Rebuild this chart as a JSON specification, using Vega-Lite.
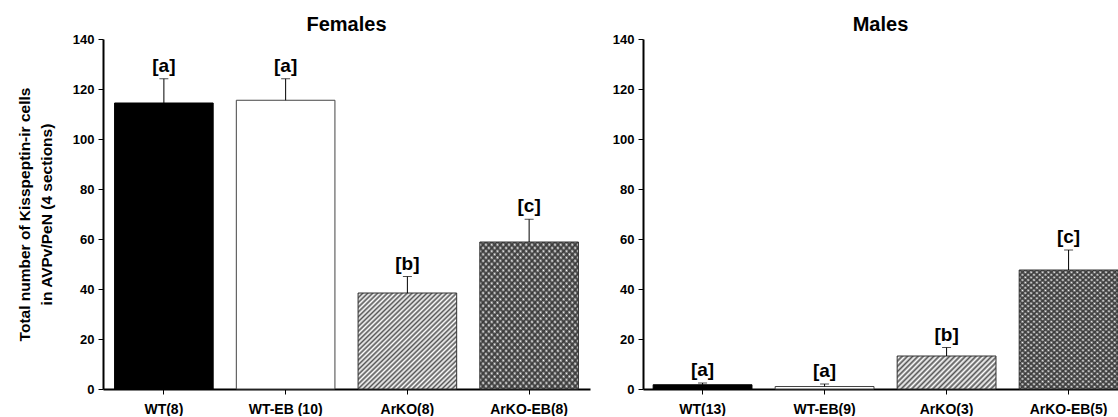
{
  "$schema": "https://vega.github.io/schema/vega-lite/v6.json",
  "padding": {"left": 17, "top": 15, "right": 0, "bottom": 0},
  "spacing": 22,
  "config": {
    "font": "Liberation Sans",
    "view": {"stroke": null},
    "axis": {"labelFont": "Liberation Sans", "labelFontWeight": "bold", "labelColor": "#000", "domainColor": "#000", "tickColor": "#000", "grid": false, "titleFont": "Liberation Sans", "titleFontWeight": "bold", "titleColor": "#000"},
    "title": {"font": "Liberation Sans", "fontSize": 20, "fontWeight": "bold", "color": "#000", "offset": -2}
  },
  "data": {"values": [
    {"sex": "Females", "key": "WT", "label": "WT(8)", "mean": 114.4, "upper": 124.1, "letter": "[a]"},
    {"sex": "Females", "key": "WT-EB", "label": "WT-EB (10)", "mean": 115.5, "upper": 124.1, "letter": "[a]"},
    {"sex": "Females", "key": "ArKO", "label": "ArKO(8)", "mean": 38.4, "upper": 45.0, "letter": "[b]"},
    {"sex": "Females", "key": "ArKO-EB", "label": "ArKO-EB(8)", "mean": 58.8, "upper": 67.9, "letter": "[c]"},
    {"sex": "Males", "key": "WT", "label": "WT(13)", "mean": 1.7, "upper": 2.4, "letter": "[a]"},
    {"sex": "Males", "key": "WT-EB", "label": "WT-EB(9)", "mean": 1.0, "upper": 2.0, "letter": "[a]"},
    {"sex": "Males", "key": "ArKO", "label": "ArKO(3)", "mean": 13.2, "upper": 16.6, "letter": "[b]"},
    {"sex": "Males", "key": "ArKO-EB", "label": "ArKO-EB(5)", "mean": 47.6, "upper": 55.6, "letter": "[c]"}
  ]},
  "hconcat": [
    {
      "title": {"text": "Females"},
      "width": 487,
      "height": 350,
      "transform": [{"filter": "datum.sex === 'Females'"}],
      "encoding": {
        "x": {"field": "label", "type": "nominal", "sort": null, "scale": {"paddingInner": 0.19, "paddingOuter": 0.095}, "axis": {"title": null, "labelAngle": 0, "labelFontSize": 14, "labelPadding": 8, "tickSize": 5, "domainWidth": 2}},
        "y": {"field": "mean", "type": "quantitative", "scale": {"domain": [0, 140]}, "title": ["Total number of Kisspeptin-ir cells", "in AVPv/PeN (4 sections)"], "axis": {"values": [0, 20, 40, 60, 80, 100, 120, 140], "titleFontSize": 15.5, "titleLineHeight": 22, "labelFontSize": 13, "tickSize": 5, "domainWidth": 2, "titlePadding": 18, "labelPadding": 4}}
      },
      "layer": [
        {"transform": [{"filter": "datum.key === 'WT'"}], "mark": {"type": "bar", "fill": "#000", "stroke": "#000", "strokeWidth": 1}},
        {"transform": [{"filter": "datum.key === 'WT-EB'"}], "mark": {"type": "bar", "fill": "#fff", "stroke": "#444", "strokeWidth": 1}},
        {"transform": [{"filter": "datum.key === 'ArKO'"}], "mark": {"type": "bar", "stroke": "#333", "strokeWidth": 1, "fill": {"gradient": "linear", "x1": 0, "y1": 0, "x2": 1, "y2": 1, "stops": [{"offset":0,"color":"#555"},{"offset":0.0125,"color":"#fff"},{"offset":0.025,"color":"#555"},{"offset":0.0375,"color":"#fff"},{"offset":0.05,"color":"#555"},{"offset":0.0625,"color":"#fff"},{"offset":0.075,"color":"#555"},{"offset":0.0875,"color":"#fff"},{"offset":0.1,"color":"#555"},{"offset":0.1125,"color":"#fff"},{"offset":0.125,"color":"#555"},{"offset":0.1375,"color":"#fff"},{"offset":0.15,"color":"#555"},{"offset":0.1625,"color":"#fff"},{"offset":0.175,"color":"#555"},{"offset":0.1875,"color":"#fff"},{"offset":0.2,"color":"#555"},{"offset":0.2125,"color":"#fff"},{"offset":0.225,"color":"#555"},{"offset":0.2375,"color":"#fff"},{"offset":0.25,"color":"#555"},{"offset":0.2625,"color":"#fff"},{"offset":0.275,"color":"#555"},{"offset":0.2875,"color":"#fff"},{"offset":0.3,"color":"#555"},{"offset":0.3125,"color":"#fff"},{"offset":0.325,"color":"#555"},{"offset":0.3375,"color":"#fff"},{"offset":0.35,"color":"#555"},{"offset":0.3625,"color":"#fff"},{"offset":0.375,"color":"#555"},{"offset":0.3875,"color":"#fff"},{"offset":0.4,"color":"#555"},{"offset":0.4125,"color":"#fff"},{"offset":0.425,"color":"#555"},{"offset":0.4375,"color":"#fff"},{"offset":0.45,"color":"#555"},{"offset":0.4625,"color":"#fff"},{"offset":0.475,"color":"#555"},{"offset":0.4875,"color":"#fff"},{"offset":0.5,"color":"#555"},{"offset":0.5125,"color":"#fff"},{"offset":0.525,"color":"#555"},{"offset":0.5375,"color":"#fff"},{"offset":0.55,"color":"#555"},{"offset":0.5625,"color":"#fff"},{"offset":0.575,"color":"#555"},{"offset":0.5875,"color":"#fff"},{"offset":0.6,"color":"#555"},{"offset":0.6125,"color":"#fff"},{"offset":0.625,"color":"#555"},{"offset":0.6375,"color":"#fff"},{"offset":0.65,"color":"#555"},{"offset":0.6625,"color":"#fff"},{"offset":0.675,"color":"#555"},{"offset":0.6875,"color":"#fff"},{"offset":0.7,"color":"#555"},{"offset":0.7125,"color":"#fff"},{"offset":0.725,"color":"#555"},{"offset":0.7375,"color":"#fff"},{"offset":0.75,"color":"#555"},{"offset":0.7625,"color":"#fff"},{"offset":0.775,"color":"#555"},{"offset":0.7875,"color":"#fff"},{"offset":0.8,"color":"#555"},{"offset":0.8125,"color":"#fff"},{"offset":0.825,"color":"#555"},{"offset":0.8375,"color":"#fff"},{"offset":0.85,"color":"#555"},{"offset":0.8625,"color":"#fff"},{"offset":0.875,"color":"#555"},{"offset":0.8875,"color":"#fff"},{"offset":0.9,"color":"#555"},{"offset":0.9125,"color":"#fff"},{"offset":0.925,"color":"#555"},{"offset":0.9375,"color":"#fff"},{"offset":0.95,"color":"#555"},{"offset":0.9625,"color":"#fff"},{"offset":0.975,"color":"#555"},{"offset":0.9875,"color":"#fff"},{"offset":1,"color":"#555"}]}}},
        {"transform": [{"filter": "datum.key === 'ArKO-EB'"}], "mark": {"type": "bar", "fill": {"gradient": "linear", "x1": 0, "y1": 0, "x2": 0.84, "y2": 1.12, "stops": [{"offset":0,"color":"#444"},{"offset":0.0125,"color":"#fff"},{"offset":0.025,"color":"#444"},{"offset":0.0375,"color":"#fff"},{"offset":0.05,"color":"#444"},{"offset":0.0625,"color":"#fff"},{"offset":0.075,"color":"#444"},{"offset":0.0875,"color":"#fff"},{"offset":0.1,"color":"#444"},{"offset":0.1125,"color":"#fff"},{"offset":0.125,"color":"#444"},{"offset":0.1375,"color":"#fff"},{"offset":0.15,"color":"#444"},{"offset":0.1625,"color":"#fff"},{"offset":0.175,"color":"#444"},{"offset":0.1875,"color":"#fff"},{"offset":0.2,"color":"#444"},{"offset":0.2125,"color":"#fff"},{"offset":0.225,"color":"#444"},{"offset":0.2375,"color":"#fff"},{"offset":0.25,"color":"#444"},{"offset":0.2625,"color":"#fff"},{"offset":0.275,"color":"#444"},{"offset":0.2875,"color":"#fff"},{"offset":0.3,"color":"#444"},{"offset":0.3125,"color":"#fff"},{"offset":0.325,"color":"#444"},{"offset":0.3375,"color":"#fff"},{"offset":0.35,"color":"#444"},{"offset":0.3625,"color":"#fff"},{"offset":0.375,"color":"#444"},{"offset":0.3875,"color":"#fff"},{"offset":0.4,"color":"#444"},{"offset":0.4125,"color":"#fff"},{"offset":0.425,"color":"#444"},{"offset":0.4375,"color":"#fff"},{"offset":0.45,"color":"#444"},{"offset":0.4625,"color":"#fff"},{"offset":0.475,"color":"#444"},{"offset":0.4875,"color":"#fff"},{"offset":0.5,"color":"#444"},{"offset":0.5125,"color":"#fff"},{"offset":0.525,"color":"#444"},{"offset":0.5375,"color":"#fff"},{"offset":0.55,"color":"#444"},{"offset":0.5625,"color":"#fff"},{"offset":0.575,"color":"#444"},{"offset":0.5875,"color":"#fff"},{"offset":0.6,"color":"#444"},{"offset":0.6125,"color":"#fff"},{"offset":0.625,"color":"#444"},{"offset":0.6375,"color":"#fff"},{"offset":0.65,"color":"#444"},{"offset":0.6625,"color":"#fff"},{"offset":0.675,"color":"#444"},{"offset":0.6875,"color":"#fff"},{"offset":0.7,"color":"#444"},{"offset":0.7125,"color":"#fff"},{"offset":0.725,"color":"#444"},{"offset":0.7375,"color":"#fff"},{"offset":0.75,"color":"#444"},{"offset":0.7625,"color":"#fff"},{"offset":0.775,"color":"#444"},{"offset":0.7875,"color":"#fff"},{"offset":0.8,"color":"#444"},{"offset":0.8125,"color":"#fff"},{"offset":0.825,"color":"#444"},{"offset":0.8375,"color":"#fff"},{"offset":0.85,"color":"#444"},{"offset":0.8625,"color":"#fff"},{"offset":0.875,"color":"#444"},{"offset":0.8875,"color":"#fff"},{"offset":0.9,"color":"#444"},{"offset":0.9125,"color":"#fff"},{"offset":0.925,"color":"#444"},{"offset":0.9375,"color":"#fff"},{"offset":0.95,"color":"#444"},{"offset":0.9625,"color":"#fff"},{"offset":0.975,"color":"#444"},{"offset":0.9875,"color":"#fff"},{"offset":1,"color":"#444"}]}}},
        {"transform": [{"filter": "datum.key === 'ArKO-EB'"}], "mark": {"type": "bar", "stroke": "#333", "strokeWidth": 1, "fill": {"gradient": "linear", "x1": 1, "y1": 0, "x2": 0.16, "y2": 1.12, "stops": [{"offset":0,"color":"#444"},{"offset":0.0125,"color":"transparent"},{"offset":0.025,"color":"#444"},{"offset":0.0375,"color":"transparent"},{"offset":0.05,"color":"#444"},{"offset":0.0625,"color":"transparent"},{"offset":0.075,"color":"#444"},{"offset":0.0875,"color":"transparent"},{"offset":0.1,"color":"#444"},{"offset":0.1125,"color":"transparent"},{"offset":0.125,"color":"#444"},{"offset":0.1375,"color":"transparent"},{"offset":0.15,"color":"#444"},{"offset":0.1625,"color":"transparent"},{"offset":0.175,"color":"#444"},{"offset":0.1875,"color":"transparent"},{"offset":0.2,"color":"#444"},{"offset":0.2125,"color":"transparent"},{"offset":0.225,"color":"#444"},{"offset":0.2375,"color":"transparent"},{"offset":0.25,"color":"#444"},{"offset":0.2625,"color":"transparent"},{"offset":0.275,"color":"#444"},{"offset":0.2875,"color":"transparent"},{"offset":0.3,"color":"#444"},{"offset":0.3125,"color":"transparent"},{"offset":0.325,"color":"#444"},{"offset":0.3375,"color":"transparent"},{"offset":0.35,"color":"#444"},{"offset":0.3625,"color":"transparent"},{"offset":0.375,"color":"#444"},{"offset":0.3875,"color":"transparent"},{"offset":0.4,"color":"#444"},{"offset":0.4125,"color":"transparent"},{"offset":0.425,"color":"#444"},{"offset":0.4375,"color":"transparent"},{"offset":0.45,"color":"#444"},{"offset":0.4625,"color":"transparent"},{"offset":0.475,"color":"#444"},{"offset":0.4875,"color":"transparent"},{"offset":0.5,"color":"#444"},{"offset":0.5125,"color":"transparent"},{"offset":0.525,"color":"#444"},{"offset":0.5375,"color":"transparent"},{"offset":0.55,"color":"#444"},{"offset":0.5625,"color":"transparent"},{"offset":0.575,"color":"#444"},{"offset":0.5875,"color":"transparent"},{"offset":0.6,"color":"#444"},{"offset":0.6125,"color":"transparent"},{"offset":0.625,"color":"#444"},{"offset":0.6375,"color":"transparent"},{"offset":0.65,"color":"#444"},{"offset":0.6625,"color":"transparent"},{"offset":0.675,"color":"#444"},{"offset":0.6875,"color":"transparent"},{"offset":0.7,"color":"#444"},{"offset":0.7125,"color":"transparent"},{"offset":0.725,"color":"#444"},{"offset":0.7375,"color":"transparent"},{"offset":0.75,"color":"#444"},{"offset":0.7625,"color":"transparent"},{"offset":0.775,"color":"#444"},{"offset":0.7875,"color":"transparent"},{"offset":0.8,"color":"#444"},{"offset":0.8125,"color":"transparent"},{"offset":0.825,"color":"#444"},{"offset":0.8375,"color":"transparent"},{"offset":0.85,"color":"#444"},{"offset":0.8625,"color":"transparent"},{"offset":0.875,"color":"#444"},{"offset":0.8875,"color":"transparent"},{"offset":0.9,"color":"#444"},{"offset":0.9125,"color":"transparent"},{"offset":0.925,"color":"#444"},{"offset":0.9375,"color":"transparent"},{"offset":0.95,"color":"#444"},{"offset":0.9625,"color":"transparent"},{"offset":0.975,"color":"#444"},{"offset":0.9875,"color":"transparent"},{"offset":1,"color":"#444"}]}}},
        {"mark": {"type": "rule", "color": "#000", "strokeWidth": 1}, "encoding": {"y2": {"field": "upper"}}},
        {"mark": {"type": "tick", "color": "#000", "size": 9, "thickness": 1}, "encoding": {"y": {"field": "upper", "type": "quantitative", "title": ["Total number of Kisspeptin-ir cells", "in AVPv/PeN (4 sections)"]}}},
        {"mark": {"type": "text", "fontSize": 19, "fontWeight": "bold", "baseline": "bottom", "dy": -3, "color": "#000"}, "encoding": {"y": {"field": "upper", "type": "quantitative", "title": ["Total number of Kisspeptin-ir cells", "in AVPv/PeN (4 sections)"]}, "text": {"field": "letter"}}}
      ]
    },
    {
      "title": {"text": "Males"},
      "width": 475,
      "height": 350,
      "transform": [{"filter": "datum.sex === 'Males'"}],
      "encoding": {
        "x": {"field": "label", "type": "nominal", "sort": null, "scale": {"paddingInner": 0.19, "paddingOuter": 0.0416, "align": 1}, "axis": {"title": null, "labelAngle": 0, "labelFontSize": 14, "labelPadding": 8, "tickSize": 5, "domainWidth": 2}},
        "y": {"field": "mean", "type": "quantitative", "scale": {"domain": [0, 140]}, "title": null, "axis": {"values": [0, 20, 40, 60, 80, 100, 120, 140], "labelFontSize": 13, "tickSize": 5, "domainWidth": 2, "labelPadding": 4}}
      },
      "layer": [
        {"transform": [{"filter": "datum.key === 'WT'"}], "mark": {"type": "bar", "fill": "#000", "stroke": "#000", "strokeWidth": 1}},
        {"transform": [{"filter": "datum.key === 'WT-EB'"}], "mark": {"type": "bar", "fill": "#fff", "stroke": "#444", "strokeWidth": 1}},
        {"transform": [{"filter": "datum.key === 'ArKO'"}], "mark": {"type": "bar", "stroke": "#333", "strokeWidth": 1, "fill": {"gradient": "linear", "x1": 0, "y1": 0, "x2": 1.2, "y2": 0.4, "stops": [{"offset":0,"color":"#555"},{"offset":0.02,"color":"#fff"},{"offset":0.04,"color":"#555"},{"offset":0.06,"color":"#fff"},{"offset":0.08,"color":"#555"},{"offset":0.1,"color":"#fff"},{"offset":0.12,"color":"#555"},{"offset":0.14,"color":"#fff"},{"offset":0.16,"color":"#555"},{"offset":0.18,"color":"#fff"},{"offset":0.2,"color":"#555"},{"offset":0.22,"color":"#fff"},{"offset":0.24,"color":"#555"},{"offset":0.26,"color":"#fff"},{"offset":0.28,"color":"#555"},{"offset":0.3,"color":"#fff"},{"offset":0.32,"color":"#555"},{"offset":0.34,"color":"#fff"},{"offset":0.36,"color":"#555"},{"offset":0.38,"color":"#fff"},{"offset":0.4,"color":"#555"},{"offset":0.42,"color":"#fff"},{"offset":0.44,"color":"#555"},{"offset":0.46,"color":"#fff"},{"offset":0.48,"color":"#555"},{"offset":0.5,"color":"#fff"},{"offset":0.52,"color":"#555"},{"offset":0.54,"color":"#fff"},{"offset":0.56,"color":"#555"},{"offset":0.58,"color":"#fff"},{"offset":0.6,"color":"#555"},{"offset":0.62,"color":"#fff"},{"offset":0.64,"color":"#555"},{"offset":0.66,"color":"#fff"},{"offset":0.68,"color":"#555"},{"offset":0.7,"color":"#fff"},{"offset":0.72,"color":"#555"},{"offset":0.74,"color":"#fff"},{"offset":0.76,"color":"#555"},{"offset":0.78,"color":"#fff"},{"offset":0.8,"color":"#555"},{"offset":0.82,"color":"#fff"},{"offset":0.84,"color":"#555"},{"offset":0.86,"color":"#fff"},{"offset":0.88,"color":"#555"},{"offset":0.9,"color":"#fff"},{"offset":0.92,"color":"#555"},{"offset":0.94,"color":"#fff"},{"offset":0.96,"color":"#555"},{"offset":0.98,"color":"#fff"},{"offset":1,"color":"#555"}]}}},
        {"transform": [{"filter": "datum.key === 'ArKO-EB'"}], "mark": {"type": "bar", "fill": {"gradient": "linear", "x1": 0, "y1": 0, "x2": 0.84, "y2": 1.12, "stops": [{"offset":0,"color":"#444"},{"offset":0.0125,"color":"#fff"},{"offset":0.025,"color":"#444"},{"offset":0.0375,"color":"#fff"},{"offset":0.05,"color":"#444"},{"offset":0.0625,"color":"#fff"},{"offset":0.075,"color":"#444"},{"offset":0.0875,"color":"#fff"},{"offset":0.1,"color":"#444"},{"offset":0.1125,"color":"#fff"},{"offset":0.125,"color":"#444"},{"offset":0.1375,"color":"#fff"},{"offset":0.15,"color":"#444"},{"offset":0.1625,"color":"#fff"},{"offset":0.175,"color":"#444"},{"offset":0.1875,"color":"#fff"},{"offset":0.2,"color":"#444"},{"offset":0.2125,"color":"#fff"},{"offset":0.225,"color":"#444"},{"offset":0.2375,"color":"#fff"},{"offset":0.25,"color":"#444"},{"offset":0.2625,"color":"#fff"},{"offset":0.275,"color":"#444"},{"offset":0.2875,"color":"#fff"},{"offset":0.3,"color":"#444"},{"offset":0.3125,"color":"#fff"},{"offset":0.325,"color":"#444"},{"offset":0.3375,"color":"#fff"},{"offset":0.35,"color":"#444"},{"offset":0.3625,"color":"#fff"},{"offset":0.375,"color":"#444"},{"offset":0.3875,"color":"#fff"},{"offset":0.4,"color":"#444"},{"offset":0.4125,"color":"#fff"},{"offset":0.425,"color":"#444"},{"offset":0.4375,"color":"#fff"},{"offset":0.45,"color":"#444"},{"offset":0.4625,"color":"#fff"},{"offset":0.475,"color":"#444"},{"offset":0.4875,"color":"#fff"},{"offset":0.5,"color":"#444"},{"offset":0.5125,"color":"#fff"},{"offset":0.525,"color":"#444"},{"offset":0.5375,"color":"#fff"},{"offset":0.55,"color":"#444"},{"offset":0.5625,"color":"#fff"},{"offset":0.575,"color":"#444"},{"offset":0.5875,"color":"#fff"},{"offset":0.6,"color":"#444"},{"offset":0.6125,"color":"#fff"},{"offset":0.625,"color":"#444"},{"offset":0.6375,"color":"#fff"},{"offset":0.65,"color":"#444"},{"offset":0.6625,"color":"#fff"},{"offset":0.675,"color":"#444"},{"offset":0.6875,"color":"#fff"},{"offset":0.7,"color":"#444"},{"offset":0.7125,"color":"#fff"},{"offset":0.725,"color":"#444"},{"offset":0.7375,"color":"#fff"},{"offset":0.75,"color":"#444"},{"offset":0.7625,"color":"#fff"},{"offset":0.775,"color":"#444"},{"offset":0.7875,"color":"#fff"},{"offset":0.8,"color":"#444"},{"offset":0.8125,"color":"#fff"},{"offset":0.825,"color":"#444"},{"offset":0.8375,"color":"#fff"},{"offset":0.85,"color":"#444"},{"offset":0.8625,"color":"#fff"},{"offset":0.875,"color":"#444"},{"offset":0.8875,"color":"#fff"},{"offset":0.9,"color":"#444"},{"offset":0.9125,"color":"#fff"},{"offset":0.925,"color":"#444"},{"offset":0.9375,"color":"#fff"},{"offset":0.95,"color":"#444"},{"offset":0.9625,"color":"#fff"},{"offset":0.975,"color":"#444"},{"offset":0.9875,"color":"#fff"},{"offset":1,"color":"#444"}]}}},
        {"transform": [{"filter": "datum.key === 'ArKO-EB'"}], "mark": {"type": "bar", "stroke": "#333", "strokeWidth": 1, "fill": {"gradient": "linear", "x1": 1, "y1": 0, "x2": 0.16, "y2": 1.12, "stops": [{"offset":0,"color":"#444"},{"offset":0.0125,"color":"transparent"},{"offset":0.025,"color":"#444"},{"offset":0.0375,"color":"transparent"},{"offset":0.05,"color":"#444"},{"offset":0.0625,"color":"transparent"},{"offset":0.075,"color":"#444"},{"offset":0.0875,"color":"transparent"},{"offset":0.1,"color":"#444"},{"offset":0.1125,"color":"transparent"},{"offset":0.125,"color":"#444"},{"offset":0.1375,"color":"transparent"},{"offset":0.15,"color":"#444"},{"offset":0.1625,"color":"transparent"},{"offset":0.175,"color":"#444"},{"offset":0.1875,"color":"transparent"},{"offset":0.2,"color":"#444"},{"offset":0.2125,"color":"transparent"},{"offset":0.225,"color":"#444"},{"offset":0.2375,"color":"transparent"},{"offset":0.25,"color":"#444"},{"offset":0.2625,"color":"transparent"},{"offset":0.275,"color":"#444"},{"offset":0.2875,"color":"transparent"},{"offset":0.3,"color":"#444"},{"offset":0.3125,"color":"transparent"},{"offset":0.325,"color":"#444"},{"offset":0.3375,"color":"transparent"},{"offset":0.35,"color":"#444"},{"offset":0.3625,"color":"transparent"},{"offset":0.375,"color":"#444"},{"offset":0.3875,"color":"transparent"},{"offset":0.4,"color":"#444"},{"offset":0.4125,"color":"transparent"},{"offset":0.425,"color":"#444"},{"offset":0.4375,"color":"transparent"},{"offset":0.45,"color":"#444"},{"offset":0.4625,"color":"transparent"},{"offset":0.475,"color":"#444"},{"offset":0.4875,"color":"transparent"},{"offset":0.5,"color":"#444"},{"offset":0.5125,"color":"transparent"},{"offset":0.525,"color":"#444"},{"offset":0.5375,"color":"transparent"},{"offset":0.55,"color":"#444"},{"offset":0.5625,"color":"transparent"},{"offset":0.575,"color":"#444"},{"offset":0.5875,"color":"transparent"},{"offset":0.6,"color":"#444"},{"offset":0.6125,"color":"transparent"},{"offset":0.625,"color":"#444"},{"offset":0.6375,"color":"transparent"},{"offset":0.65,"color":"#444"},{"offset":0.6625,"color":"transparent"},{"offset":0.675,"color":"#444"},{"offset":0.6875,"color":"transparent"},{"offset":0.7,"color":"#444"},{"offset":0.7125,"color":"transparent"},{"offset":0.725,"color":"#444"},{"offset":0.7375,"color":"transparent"},{"offset":0.75,"color":"#444"},{"offset":0.7625,"color":"transparent"},{"offset":0.775,"color":"#444"},{"offset":0.7875,"color":"transparent"},{"offset":0.8,"color":"#444"},{"offset":0.8125,"color":"transparent"},{"offset":0.825,"color":"#444"},{"offset":0.8375,"color":"transparent"},{"offset":0.85,"color":"#444"},{"offset":0.8625,"color":"transparent"},{"offset":0.875,"color":"#444"},{"offset":0.8875,"color":"transparent"},{"offset":0.9,"color":"#444"},{"offset":0.9125,"color":"transparent"},{"offset":0.925,"color":"#444"},{"offset":0.9375,"color":"transparent"},{"offset":0.95,"color":"#444"},{"offset":0.9625,"color":"transparent"},{"offset":0.975,"color":"#444"},{"offset":0.9875,"color":"transparent"},{"offset":1,"color":"#444"}]}}},
        {"mark": {"type": "rule", "color": "#000", "strokeWidth": 1}, "encoding": {"y2": {"field": "upper"}}},
        {"mark": {"type": "tick", "color": "#000", "size": 9, "thickness": 1}, "encoding": {"y": {"field": "upper", "type": "quantitative", "title": null}}},
        {"mark": {"type": "text", "fontSize": 19, "fontWeight": "bold", "baseline": "bottom", "dy": -3, "color": "#000"}, "encoding": {"y": {"field": "upper", "type": "quantitative", "title": null}, "text": {"field": "letter"}}}
      ]
    }
  ]
}
